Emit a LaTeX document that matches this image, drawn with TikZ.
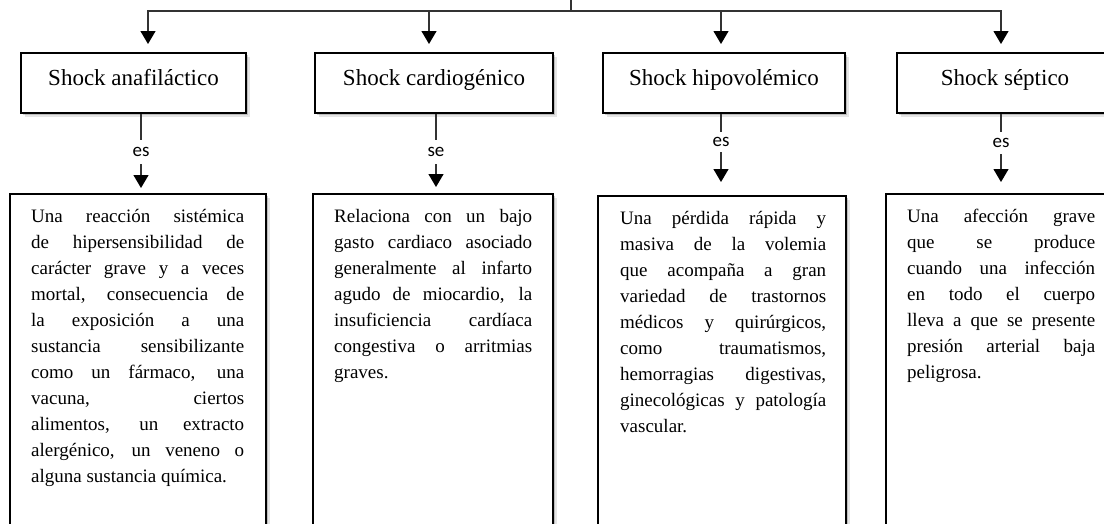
\documentclass[tikz,border=0pt]{standalone}
\usepackage{fontspec}
\setmainfont{Liberation Serif}
\newfontfamily\lblfont{Carlito}
\usetikzlibrary{arrows.meta,shadows}
\begin{document}
\begin{tikzpicture}[x=1pt,y=-1pt,
  boxshadow/.style={drop shadow={shadow xshift=4pt,shadow yshift=-4pt,fill=black,opacity=.10},
                    drop shadow={shadow xshift=2pt,shadow yshift=-2pt,fill=black,opacity=.18}},
  hbox/.style={boxshadow, draw=black, line width=2pt, fill=white, minimum height=60pt,
               inner sep=0pt, text height=16pt, text depth=12pt,
               font={\fontsize{23}{27}\selectfont}},
  dbox/.style={boxshadow, draw=black, line width=2pt, fill=white, anchor=north,
               minimum height=347pt, inner sep=0pt},
  bodytext/.style={inner sep=0pt, align=justify, anchor=base west,
               font={\fontsize{19}{26}\selectfont\tolerance 10000 \hyphenpenalty 10000 }},
  conn/.style={draw=black!80, line width=1.2pt},
  arr/.style={conn, -{Triangle[width=15pt,length=13pt,black]}},
  lbl/.style={fill=white, inner sep=0pt, minimum width=20pt,
              font={\lblfont\fontsize{19}{22}\selectfont}}]
\useasboundingbox (0,0) rectangle (1104,523);
\clip (0,0) rectangle (1104,523);

% coordinates
\coordinate (stem) at (571,-5);
\coordinate (bus) at (571,11);
\coordinate (a1) at (148,0);
\coordinate (a2) at (429,0);
\coordinate (a3) at (721,0);
\coordinate (a4) at (1001,0);
\coordinate (x1) at (141,0);
\coordinate (x2) at (436,0);
\coordinate (x3) at (721,0);
\coordinate (x4) at (1001,0);

% header boxes
\node[hbox, minimum width=225pt] (b1) at (133.5,83) {Shock anafiláctico};
\node[hbox, minimum width=238pt] (b2) at (434,83) {Shock cardiogénico};
\node[hbox, minimum width=242pt] (b3) at (724,83) {Shock hipovolémico};
\node[hbox, minimum width=216pt] (b4) at (1005,83) {Shock séptico};

% description boxes
\node[dbox, minimum width=256pt] (d1) at (138,193) {};
\node[dbox, minimum width=240pt] (d2) at (433,193) {};
\node[dbox, minimum width=248pt] (d3) at (722,195) {};
\node[dbox, minimum width=230pt] (d4) at (1001,193) {};

\node[bodytext, text width=213pt] (t1) at (31,222) {Una reacción sistémica\linebreak
de hipersensibilidad de\linebreak
carácter grave y a veces\linebreak
mortal, consecuencia de\linebreak
la exposición a una\linebreak
sustancia sensibilizante\linebreak
como un fármaco, una\linebreak
vacuna, ciertos\linebreak
alimentos, un extracto\linebreak
alergénico, un veneno o\linebreak
alguna sustancia química.};

\node[bodytext, text width=198pt] (t2) at (334,222) {Relaciona con un bajo\linebreak
gasto cardiaco asociado\linebreak
generalmente al infarto\linebreak
agudo de miocardio, la\linebreak
insuficiencia cardíaca\linebreak
congestiva o arritmias\linebreak
graves.};

\node[bodytext, text width=206pt] (t3) at (620,224) {Una pérdida rápida y\linebreak
masiva de la volemia\linebreak
que acompaña a gran\linebreak
variedad de trastornos\linebreak
médicos y quirúrgicos,\linebreak
como traumatismos,\linebreak
hemorragias digestivas,\linebreak
ginecológicas y patología\linebreak
vascular.};

\node[bodytext, text width=188pt] (t4) at (907,222) {Una afección grave\linebreak
que se produce\linebreak
cuando una infección\linebreak
en todo el cuerpo\linebreak
lleva a que se presente\linebreak
presión arterial baja\linebreak
peligrosa.};

% top distribution
\draw[conn] (stem) -- (bus);
\draw[arr, shorten >=8pt] (bus) -| (b1.north -| a1);
\draw[arr, shorten >=8pt] (bus) -| (b2.north -| a2);
\draw[arr, shorten >=8pt] (bus) -| (b3.north -| a3);
\draw[arr, shorten >=8pt] (bus) -| (b4.north -| a4);

% labelled connectors
\draw[arr, shorten >=5pt] (b1.south -| x1) -- node[lbl, pos=.48, minimum height=24pt] {es} (d1.north -| x1);
\draw[arr, shorten >=6pt] (b2.south -| x2) -- node[lbl, pos=.48, minimum height=24pt] {se} (d2.north -| x2);
\draw[arr, shorten >=13pt] (b3.south -| x3) -- node[lbl, pos=.35, minimum height=20pt] {es} (d3.north -| x3);
\draw[arr, shorten >=11pt] (b4.south -| x4) -- node[lbl, pos=.37, minimum height=22pt] {es} (d4.north -| x4);
\end{tikzpicture}
\end{document}
